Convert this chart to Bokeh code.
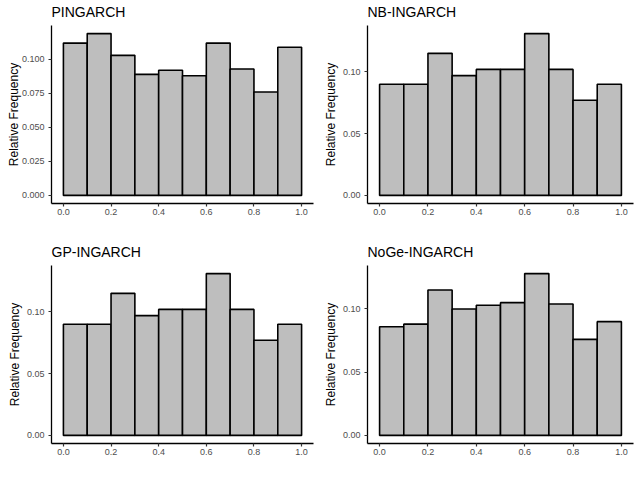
from bokeh.plotting import figure
from bokeh.layouts import gridplot
from bokeh.models import Range1d, FixedTicker, PrintfTickFormatter
from bokeh.embed import file_html
from bokeh.resources import INLINE

# ---- data ----
bin_edges = [0.0, 0.1, 0.2, 0.3, 0.4, 0.5, 0.6, 0.7, 0.8, 0.9, 1.0]
titles = ["PINGARCH", "NB-INGARCH", "GP-INGARCH", "NoGe-INGARCH"]
pingarch = [0.112, 0.119, 0.103, 0.089, 0.092, 0.088, 0.112, 0.093, 0.076, 0.109]
nb_ingarch = [0.090, 0.090, 0.115, 0.097, 0.102, 0.102, 0.131, 0.102, 0.077, 0.090]
gp_ingarch = [0.090, 0.090, 0.115, 0.097, 0.102, 0.102, 0.131, 0.102, 0.077, 0.090]
noge_ingarch = [0.086, 0.088, 0.115, 0.100, 0.103, 0.105, 0.128, 0.104, 0.076, 0.090]
x_ticks = [0.0, 0.2, 0.4, 0.6, 0.8, 1.0]
y_ticks_fine = [0.0, 0.025, 0.05, 0.075, 0.1]
y_ticks_coarse = [0.0, 0.05, 0.1]

FONT = "Liberation Sans"


def make_panel(title, vals, yticks, yfmt, width, height, mb_left, mb_right,
               mb_top, mb_bottom, label_standoff):
    ymax = max(vals)
    pad = 0.05 * ymax
    p = figure(width=width, height=height, output_backend="svg",
               toolbar_location=None,
               x_range=Range1d(-0.05, 1.05),
               y_range=Range1d(-pad, ymax + pad),
               min_border_left=mb_left, min_border_right=mb_right,
               min_border_top=mb_top, min_border_bottom=mb_bottom)
    p.quad(left=bin_edges[:-1], right=bin_edges[1:], bottom=0, top=vals,
           fill_color="#BEBEBE", line_color="black", line_width=1.6)

    p.title.text = title
    p.title.text_font = FONT
    p.title.text_font_size = "14px"
    p.title.text_font_style = "normal"
    p.title.text_color = "black"
    p.title.align = "left"
    p.title.vertical_align = "top"
    p.title.standoff = 7

    p.grid.visible = False
    p.outline_line_color = None
    p.background_fill_color = "white"
    p.border_fill_color = "white"

    for ax in (p.xaxis, p.yaxis):
        ax.axis_line_color = "black"
        ax.axis_line_width = 1.3
        ax.major_tick_line_color = "#333333"
        ax.major_tick_line_width = 1.2
        ax.major_tick_in = 0
        ax.major_tick_out = 3
        ax.minor_tick_line_color = None
        ax.major_label_text_font = FONT
        ax.major_label_text_font_size = "9px"
        ax.major_label_text_color = "#4D4D4D"

    p.xaxis.ticker = FixedTicker(ticks=x_ticks)
    p.xaxis.formatter = PrintfTickFormatter(format="%.1f")
    p.xaxis.major_label_standoff = 2

    p.yaxis.ticker = FixedTicker(ticks=yticks)
    p.yaxis.formatter = PrintfTickFormatter(format=yfmt)
    p.yaxis.major_label_standoff = 4
    p.yaxis.axis_label = "Relative Frequency"
    p.yaxis.axis_label_text_font = FONT
    p.yaxis.axis_label_text_font_size = "12px"
    p.yaxis.axis_label_text_font_style = "normal"
    p.yaxis.axis_label_text_color = "black"
    p.yaxis.axis_label_standoff = label_standoff
    return p


p1 = make_panel(titles[0], pingarch, y_ticks_fine, "%.3f",
                320, 240, 51, 7, 25, 37, -2)
p2 = make_panel(titles[1], nb_ingarch, y_ticks_coarse, "%.2f",
                318, 240, 46, 5, 25, 37, 2)
p3 = make_panel(titles[2], gp_ingarch, y_ticks_coarse, "%.2f",
                320, 236, 46, 7, 25, 33, 2)
p4 = make_panel(titles[3], noge_ingarch, y_ticks_coarse, "%.2f",
                318, 236, 46, 5, 25, 33, 2)

grid = gridplot([[p1, p2], [p3, p4]], toolbar_location=None)

open("out.html", "w").write(file_html(grid, INLINE))
